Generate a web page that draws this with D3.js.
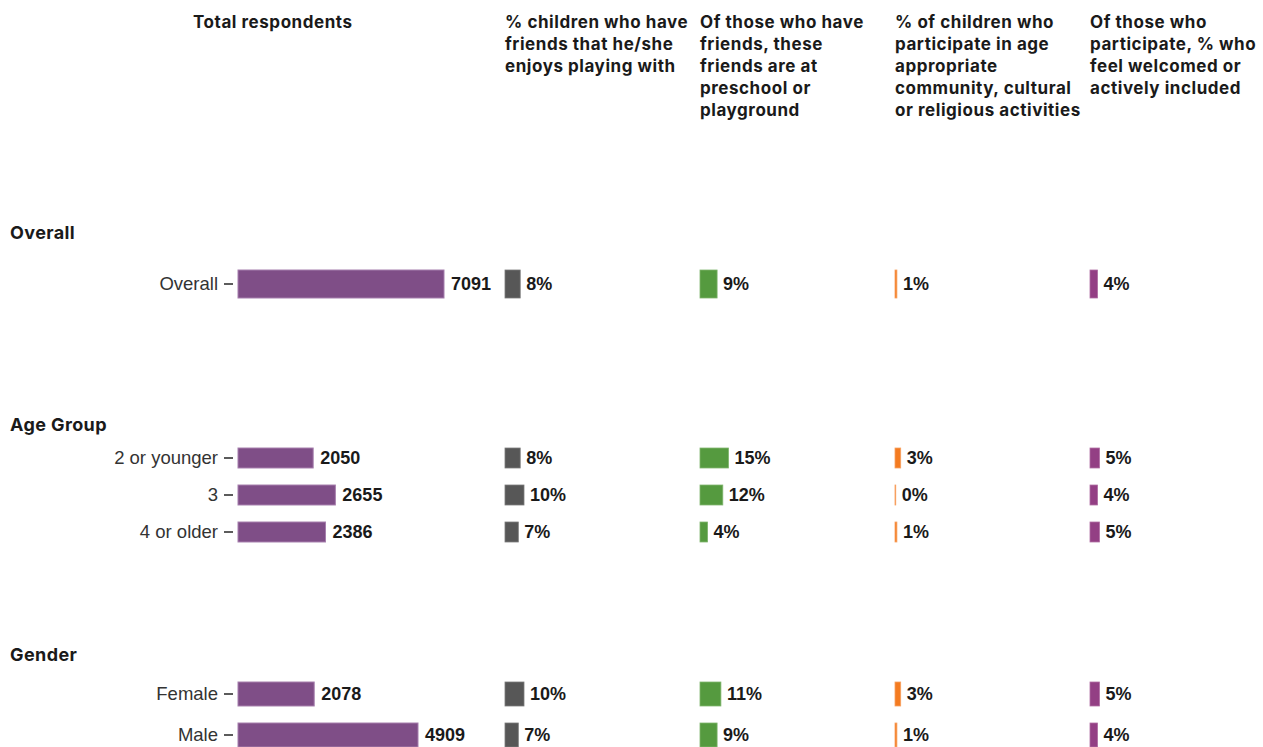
<!DOCTYPE html>
<html>
<head>
<meta charset="utf-8">
<script src="https://cdn.jsdelivr.net/npm/d3@7"></script>
<style>
  html, body { margin: 0; padding: 0; background: #fff; }
  svg { display: block; }
</style>
</head>
<body>
<svg id="chart" width="1263" height="747"></svg>
<script>
// ---- Data ----
const sections = ["Overall", "Age Group", "Gender"];
const overallCats = ["Overall"];
const ageCats = ["2 or younger", "3", "4 or older"];
const genderCats = ["Female", "Male"];

const overallCounts = [7091];
const ageCounts = [2050, 2655, 2386];
const genderCounts = [2078, 4909];

const friendsPct = { "Overall": [8], "Age Group": [8, 10, 7], "Gender": [10, 7] };
const preschoolPct = { "Overall": [9], "Age Group": [15, 12, 4], "Gender": [11, 9] };
const participatePct = { "Overall": [1], "Age Group": [3, 0.4, 1], "Gender": [3, 1] };
const welcomedPct = { "Overall": [4], "Age Group": [5, 4, 5], "Gender": [5, 4] };

const headers = [
  ["Total respondents"],
  ["% children who have", "friends that he/she", "enjoys playing with"],
  ["Of those who have", "friends, these", "friends are at", "preschool or", "playground"],
  ["% of children who", "participate in age", "appropriate", "community, cultural", "or religious activities"],
  ["Of those who", "participate, % who", "feel welcomed or", "actively included"]
];

// ---- Layout ----
const svg = d3.select("#chart");
const bodyFont = "'Liberation Sans', Arial, sans-serif";
const headFont = "Inter, 'Open Sans', sans-serif";

const sectionCats = { "Overall": overallCats, "Age Group": ageCats, "Gender": genderCats };
const sectionCounts = { "Overall": overallCounts, "Age Group": ageCounts, "Gender": genderCounts };
const sectionLayout = {
  "Overall":   { titleY: 239, range: [259, 309], pad: 0.44 },
  "Age Group": { titleY: 431, range: [439.5, 550.5], pad: 0.46 },
  "Gender":    { titleY: 661, range: [673.5, 755.5], pad: 0.415 }
};

const countX0 = 238;
const xCountOverall = d3.scaleLinear().domain([0, 7091]).range([0, 206]);
const xCountSub = d3.scaleLinear().domain([0, 4909]).range([0, 180]);

const pctCols = [
  { data: friendsPct, x0: 505, color: "#575757", stroke: "#7a7a7a" },
  { data: preschoolPct, x0: 700, color: "#559a3f", stroke: "#7fb56d" },
  { data: participatePct, x0: 895, color: "#f47b20", stroke: "#f7a060" },
  { data: welcomedPct, x0: 1090, color: "#933f84", stroke: "#b06ea3" }
];
const xPct = d3.scaleLinear().domain([0, 100]).range([0, 190]);

// ---- Column headers ----
const headerX = [193, 505, 700, 895, 1090];
headers.forEach((lines, i) => {
  const t = svg.append("text")
    .attr("x", headerX[i]).attr("y", 28)
    .attr("font-family", headFont).attr("font-weight", 700)
    .attr("font-size", 17).attr("letter-spacing", 0.55).attr("fill", "#1a1a1a");
  lines.forEach((ln, j) => {
    t.append("tspan").attr("x", headerX[i]).attr("dy", j === 0 ? 0 : 22).text(ln);
  });
});

// ---- Sections ----
sections.forEach(sec => {
  const L = sectionLayout[sec];
  const cats = sectionCats[sec];
  const counts = sectionCounts[sec];
  const xc = sec === "Overall" ? xCountOverall : xCountSub;
  const y = d3.scaleBand().domain(cats).range(L.range)
    .paddingInner(L.pad).paddingOuter(L.pad / 2);

  svg.append("text")
    .attr("x", 10).attr("y", L.titleY)
    .attr("font-family", headFont).attr("font-weight", 700)
    .attr("font-size", 18).attr("letter-spacing", 0.4).attr("fill", "#1a1a1a")
    .text(sec);

  // axis with category labels
  const axis = d3.axisLeft(y).tickSize(9).tickPadding(6);
  const g = svg.append("g").attr("transform", `translate(${countX0 - 5},0)`).call(axis);
  g.select(".domain").remove();
  g.selectAll(".tick line").attr("stroke", "#333").attr("stroke-width", 1.6);
  g.selectAll(".tick text")
    .attr("font-family", bodyFont).attr("font-size", 18.5).attr("fill", "#333");

  // count bars
  svg.append("g").selectAll("rect").data(cats).join("rect")
    .attr("x", countX0)
    .attr("y", d => y(d))
    .attr("width", (d, i) => xc(counts[i]))
    .attr("height", y.bandwidth())
    .attr("fill", "#7f4e87").attr("stroke", "#a67fad").attr("stroke-width", 1);

  svg.append("g").selectAll("text").data(cats).join("text")
    .attr("x", (d, i) => countX0 + xc(counts[i]) + 7)
    .attr("y", d => y(d) + y.bandwidth() / 2)
    .attr("dy", "0.36em")
    .attr("font-family", bodyFont).attr("font-weight", 700)
    .attr("font-size", 18).attr("fill", "#1a1a1a")
    .text((d, i) => counts[i]);

  // percentage columns
  pctCols.forEach(col => {
    const vals = col.data[sec];
    svg.append("g").selectAll("rect").data(cats).join("rect")
      .attr("x", col.x0)
      .attr("y", d => y(d))
      .attr("width", (d, i) => xPct(vals[i]))
      .attr("height", y.bandwidth())
      .attr("fill", col.color).attr("stroke", col.stroke).attr("stroke-width", 0.8);

    svg.append("g").selectAll("text").data(cats).join("text")
      .attr("x", (d, i) => col.x0 + xPct(vals[i]) + 6)
      .attr("y", d => y(d) + y.bandwidth() / 2)
      .attr("dy", "0.36em")
      .attr("font-family", bodyFont).attr("font-weight", 700)
      .attr("font-size", 18).attr("fill", "#1a1a1a")
      .text((d, i) => Math.round(vals[i]) + "%");
  });
});
</script>
</body>
</html>
